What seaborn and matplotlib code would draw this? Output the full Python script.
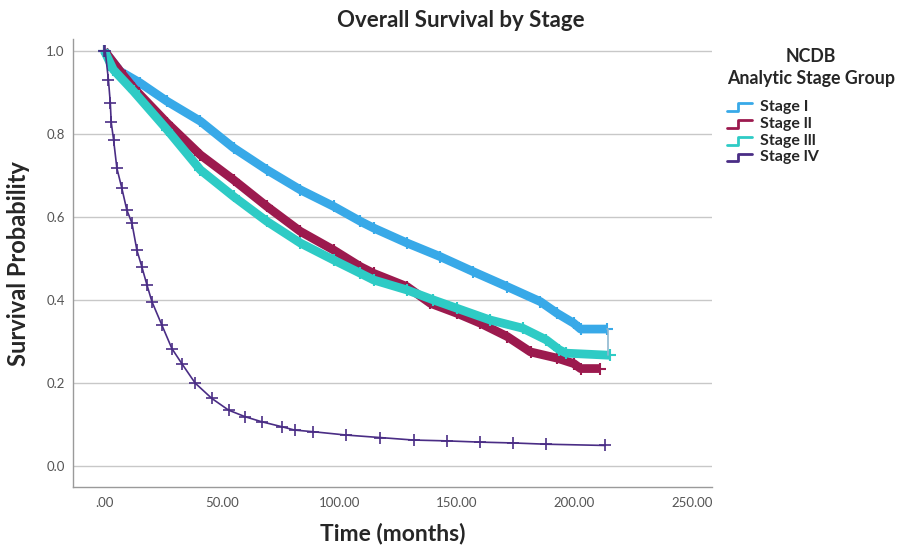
import numpy as np
import pandas as pd
import matplotlib
matplotlib.use('Agg')
import matplotlib.pyplot as plt
import seaborn as sns
from matplotlib.lines import Line2D
from matplotlib.legend_handler import HandlerLine2D

# Kaplan-Meier curves (time in months, survival probability)
t_stage1 = [0, 6.8, 15.3, 26.7, 40.9, 55, 69.2, 83.4, 97.6, 109, 114.6, 128.8, 143, 157,
            171.4, 185.5, 192.6, 199.7, 202.6, 213.9]
s_stage1 = [1.0, 0.95, 0.922, 0.878, 0.83, 0.766, 0.713, 0.665, 0.625, 0.589, 0.573, 0.537,
            0.504, 0.468, 0.432, 0.396, 0.368, 0.344, 0.33, 0.33]
# last event of stage I: drop at the end of follow-up
t_stage1_last = 214.2
s_stage1_last = 0.267

t_stage2 = [0, 6.8, 12.5, 26.7, 40.9, 55, 69.2, 83.4, 97.6, 109, 114.6, 128.8, 138.7, 150,
            160, 171.4, 181.3, 192.6, 199.7, 202.6, 211]
s_stage2 = [1.0, 0.95, 0.91, 0.826, 0.749, 0.689, 0.625, 0.565, 0.52, 0.48, 0.464, 0.432,
            0.392, 0.368, 0.344, 0.312, 0.275, 0.26, 0.247, 0.235, 0.235]

t_stage3 = [0, 3.9, 12.5, 26.7, 40.9, 55, 69.2, 83.4, 97.6, 109, 114.6, 128.8, 140, 150,
            164, 178, 188, 193.6, 196.5, 215]
s_stage3 = [1.0, 0.954, 0.902, 0.81, 0.713, 0.649, 0.589, 0.537, 0.496, 0.464, 0.448, 0.424,
            0.40, 0.38, 0.352, 0.332, 0.304, 0.28, 0.272, 0.267]

t_stage4 = [0, 0.4, 1.8, 2.6, 3, 4, 5.4, 7.5, 9.6, 11.8, 13.9, 16, 18.2, 20.3, 24.5, 28.8, 33,
            38.7, 45.8, 52.9, 60, 67, 75.6, 81, 89, 103, 117.4, 131.6, 145.8, 160, 174, 188, 213]
s_stage4 = [1.0, 1.0, 0.93, 0.874, 0.827, 0.785, 0.717, 0.669, 0.617, 0.585, 0.52, 0.48, 0.436,
            0.396, 0.34, 0.283, 0.247, 0.2, 0.163, 0.135, 0.119, 0.107, 0.095, 0.087, 0.083,
            0.075, 0.069, 0.063, 0.061, 0.058, 0.056, 0.053, 0.05]

stages = ['Stage I', 'Stage ll', 'Stage lll', 'Stage lV']
colors = ['#38a9e8', '#9c1a4e', '#2ecbc5', '#4a2d85']

curves = {
    'Stage I': (t_stage1, s_stage1),
    'Stage ll': (t_stage2, s_stage2),
    'Stage lll': (t_stage3, s_stage3),
    'Stage lV': (t_stage4, s_stage4),
}

x_ticks = [0, 50, 100, 150, 200, 250]
x_tick_labels = ['.00', '50.00', '100.00', '150.00', '200.00', '250.00']
y_ticks = [0.0, 0.2, 0.4, 0.6, 0.8, 1.0]

sns.set_style('white')
plt.rcParams['font.family'] = ['Lato', 'DejaVu Sans']

fig = plt.figure(figsize=(9.03, 5.46), dpi=100)
ax = fig.add_axes([0.081, 0.108, 0.707, 0.82])

for stage, color in zip(stages, colors):
    t, s = curves[stage]
    df = pd.DataFrame({'time': t, 'surv': s})
    if stage == 'Stage lV':
        sns.lineplot(data=df, x='time', y='surv', color=color, linewidth=1.2,
                     marker='+', markersize=8, markeredgewidth=1.2, markeredgecolor=color,
                     ax=ax, sort=False, label=stage)
    else:
        sns.lineplot(data=df, x='time', y='surv', color=color, linewidth=6.3,
                     marker='+', markersize=9, markeredgewidth=1.5, markeredgecolor=color,
                     ax=ax, sort=False, label=stage, solid_capstyle='butt')

# final drop of stage I drawn as a thin step
ax.plot([t_stage1[-1], t_stage1_last, t_stage1_last],
        [s_stage1[-1], s_stage1[-1], s_stage1_last], color='#8fb7d0', linewidth=1.2)

ax.set_xlim(-13.2, 258.3)
ax.set_ylim(-0.05, 1.027)
ax.set_xticks(x_ticks)
ax.set_xticklabels(x_tick_labels)
ax.set_yticks(y_ticks)
ax.set_yticklabels([f'{v:.1f}' for v in y_ticks])
ax.tick_params(axis='x', length=0, labelsize=9.5, labelcolor='#555555', pad=7)
ax.tick_params(axis='y', length=0, labelsize=9.5, labelcolor='#555555', pad=6)
ax.yaxis.grid(True, color='#c8c8c8', linewidth=1)
ax.xaxis.grid(False)
for side in ['top', 'right']:
    ax.spines[side].set_visible(False)
for side in ['left', 'bottom']:
    ax.spines[side].set_color('#9a9a9a')
    ax.spines[side].set_linewidth(1)

ax.set_xlabel('Time (months)', fontsize=16.5, fontweight='bold', labelpad=10)
ax.set_ylabel('Survival Probability', fontsize=17, fontweight='bold', labelpad=12)
fig.text(0.51, 0.963, 'Overall Survival by Stage', ha='center', va='center',
         fontsize=16, fontweight='bold')


class StepHandler(HandlerLine2D):
    def create_artists(self, legend, orig_handle, xdescent, ydescent, width, height,
                       fontsize, trans):
        xs = np.array([0, 0.45, 0.45, 1.0]) * width - xdescent
        ys = np.array([0.0, 0.0, 0.7, 0.7]) * height - ydescent
        ln = Line2D(xs, ys, color=orig_handle.get_color(), linewidth=2)
        ln.set_transform(trans)
        return [ln]


handles = [Line2D([], [], color=c) for c in colors]
leg = ax.legend(handles, stages, loc='upper left', bbox_to_anchor=(0.805, 0.913),
                bbox_transform=fig.transFigure, frameon=False, title='NCDB\nAnalytic Stage Group',
                handler_map={Line2D: StepHandler()}, handlelength=1.6, handletextpad=0.5,
                labelspacing=0.17, borderpad=0, borderaxespad=0,
                prop={'weight': 'bold', 'size': 11.5})
leg.get_title().set_fontweight('bold')
leg.get_title().set_fontsize(12.8)
leg.get_title().set_multialignment('center')
leg.get_title().set_linespacing(1.4)
leg._legend_box.align = 'left'
leg._legend_box.sep = 9
leg._legend_handle_box.pad = 0

fig.savefig('out.png', dpi=100)
